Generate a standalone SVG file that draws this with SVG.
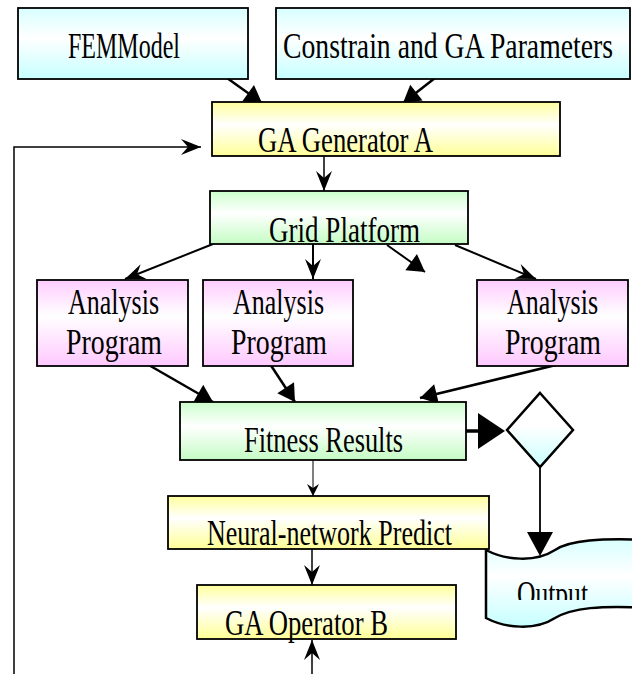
<svg xmlns="http://www.w3.org/2000/svg" width="632" height="674" viewBox="0 0 632 674">
  <defs>
    <!-- vertical fills: tint at top and bottom, white band in between -->
    <linearGradient id="gCyan" x1="0" y1="0" x2="0" y2="1">
      <stop offset="0" stop-color="#d8ffff"/>
      <stop offset="0.42" stop-color="#ffffff"/>
      <stop offset="1" stop-color="#c6ffff"/>
    </linearGradient>
    <linearGradient id="gYellow" x1="0" y1="0" x2="0" y2="1">
      <stop offset="0" stop-color="#ffff9c"/>
      <stop offset="0.42" stop-color="#ffffff"/>
      <stop offset="1" stop-color="#ffff96"/>
    </linearGradient>
    <linearGradient id="gGreen" x1="0" y1="0" x2="0" y2="1">
      <stop offset="0" stop-color="#ccffcc"/>
      <stop offset="0.42" stop-color="#ffffff"/>
      <stop offset="1" stop-color="#c4fcc4"/>
    </linearGradient>
    <linearGradient id="gPink" x1="0" y1="0" x2="0" y2="1">
      <stop offset="0" stop-color="#ffccff"/>
      <stop offset="0.42" stop-color="#ffffff"/>
      <stop offset="1" stop-color="#ffc8ff"/>
    </linearGradient>
    <linearGradient id="gDiamond" x1="0" y1="0" x2="0" y2="1">
      <stop offset="0" stop-color="#ffffff"/>
      <stop offset="0.45" stop-color="#ffffff"/>
      <stop offset="1" stop-color="#c8ffff"/>
    </linearGradient>

    <!-- filled triangle head -->
    <marker id="tri" markerUnits="userSpaceOnUse" viewBox="-18 -11 19 22" markerWidth="19" markerHeight="22" refX="0" refY="0" orient="auto">
      <path d="M0,0 L-17,-10 L-17,10 Z" fill="#000"/>
    </marker>
    <!-- notched head -->
    <marker id="stealth" markerUnits="userSpaceOnUse" viewBox="-21 -9 22 18" markerWidth="22" markerHeight="18" refX="0" refY="0" orient="auto">
      <path d="M0,0 L-20,-8 L-13,0 L-20,8 Z" fill="#000"/>
    </marker>
    <marker id="stealthS" markerUnits="userSpaceOnUse" viewBox="-13 -7 14 14" markerWidth="14" markerHeight="14" refX="0" refY="0" orient="auto">
      <path d="M0,0 L-12,-6 L-8,0 L-12,6 Z" fill="#000"/>
    </marker>

    <clipPath id="outClip">
      <rect x="486" y="530" width="146" height="70"/>
    </clipPath>
  </defs>

  <style>
    .lbl { font-family: "Liberation Serif", "Times New Roman", serif; font-size: 35px; fill: #000; }
    .box { stroke: #000; stroke-width: 1.8; }
    .conn { fill: none; stroke: #000; }
  </style>

  <rect width="632" height="674" fill="#ffffff"/>

  <!-- connectors -->
  <g id="connectors">
    <line class="conn" x1="227" y1="78" x2="262" y2="103" stroke-width="2.5" marker-end="url(#tri)"/>
    <line class="conn" x1="435" y1="78" x2="403" y2="103" stroke-width="2.5" marker-end="url(#tri)"/>
    <polyline class="conn" points="14,674 14,147 201,147" stroke-width="1.5" marker-end="url(#stealth)"/>
    <line class="conn" x1="324" y1="150" x2="324" y2="191" stroke-width="1.5" marker-end="url(#stealth)"/>
    <line class="conn" x1="213" y1="244" x2="125" y2="279" stroke-width="2" marker-end="url(#stealth)"/>
    <line class="conn" x1="313" y1="244" x2="313" y2="279" stroke-width="2" marker-end="url(#stealth)"/>
    <line class="conn" x1="387" y1="245" x2="425" y2="272" stroke-width="2" marker-end="url(#tri)"/>
    <line class="conn" x1="455" y1="245" x2="536" y2="279" stroke-width="2" marker-end="url(#stealth)"/>
    <line class="conn" x1="147" y1="364" x2="213" y2="402" stroke-width="2.5" marker-end="url(#tri)"/>
    <line class="conn" x1="270" y1="364" x2="295" y2="402" stroke-width="2.5" marker-end="url(#tri)"/>
    <line class="conn" x1="560" y1="364" x2="420" y2="398" stroke-width="2.5" marker-end="url(#tri)"/>
    <line class="conn" x1="466" y1="431" x2="480" y2="431" stroke-width="3.5"/>
    <polygon points="478,413 505,431 478,449" fill="#000"/>
    <line class="conn" x1="540" y1="467" x2="540" y2="534" stroke-width="1.8"/>
    <polygon points="527,532 553,532 540,556" fill="#000"/>
    <line class="conn" x1="313" y1="460" x2="313" y2="496" stroke-width="1" marker-end="url(#stealthS)"/>
    <line class="conn" x1="312" y1="549" x2="312" y2="585" stroke-width="1.5" marker-end="url(#stealth)"/>
    <line class="conn" x1="312" y1="674" x2="312" y2="640" stroke-width="1.5" marker-end="url(#stealth)"/>
  </g>

  <g id="fem-model">
    <rect class="box" x="18" y="8" width="230" height="71" fill="url(#gCyan)" stroke-width="2.5"/>
    <text class="lbl" x="68" y="58" textLength="112" lengthAdjust="spacingAndGlyphs">FEMModel</text>
  </g>

  <g id="constrain-params">
    <rect class="box" x="276" y="8" width="354" height="71" fill="url(#gCyan)" stroke-width="2.5"/>
    <!-- smaller face stretched vertically so the long label stays inside the box -->
    <g transform="translate(0,58) scale(1,1.25)">
      <text class="lbl" x="283" y="0" style="font-size:28px" textLength="330" lengthAdjust="spacingAndGlyphs">Constrain and GA Parameters</text>
    </g>
  </g>

  <g id="ga-generator-a">
    <rect class="box" x="212" y="102" width="348" height="54" fill="url(#gYellow)"/>
    <text class="lbl" x="258" y="152" textLength="175" lengthAdjust="spacingAndGlyphs">GA Generator A</text>
  </g>

  <g id="grid-platform">
    <rect class="box" x="210" y="191" width="258" height="53" fill="url(#gGreen)" stroke-width="2"/>
    <text class="lbl" x="269" y="242" textLength="151" lengthAdjust="spacingAndGlyphs">Grid Platform</text>
  </g>

  <g id="analysis-1">
    <rect class="box" x="37" y="280" width="151" height="86" fill="url(#gPink)"/>
    <text class="lbl" x="68" y="314" textLength="91" lengthAdjust="spacingAndGlyphs">Analysis</text>
    <text class="lbl" x="66" y="354" textLength="96" lengthAdjust="spacingAndGlyphs">Program</text>
  </g>

  <g id="analysis-2">
    <rect class="box" x="203" y="280" width="150" height="86" fill="url(#gPink)"/>
    <text class="lbl" x="233" y="314" textLength="91" lengthAdjust="spacingAndGlyphs">Analysis</text>
    <text class="lbl" x="231" y="354" textLength="96" lengthAdjust="spacingAndGlyphs">Program</text>
  </g>

  <g id="analysis-3">
    <rect class="box" x="477" y="280" width="151" height="86" fill="url(#gPink)"/>
    <text class="lbl" x="507" y="314" textLength="91" lengthAdjust="spacingAndGlyphs">Analysis</text>
    <text class="lbl" x="505" y="354" textLength="96" lengthAdjust="spacingAndGlyphs">Program</text>
  </g>

  <g id="fitness-results">
    <rect class="box" x="180" y="402" width="286" height="58" fill="url(#gGreen)"/>
    <text class="lbl" x="244" y="452" textLength="159" lengthAdjust="spacingAndGlyphs">Fitness Results</text>
  </g>

  <g id="decision">
    <polygon points="540,393 573,430 540,467 507,430" fill="url(#gDiamond)" stroke="#000" stroke-width="2.5" stroke-linejoin="miter"/>
  </g>

  <g id="neural-predict">
    <rect class="box" x="168" y="496" width="321" height="53" fill="url(#gYellow)"/>
    <text class="lbl" x="207" y="545" textLength="245" lengthAdjust="spacingAndGlyphs">Neural-network Predict</text>
  </g>

  <g id="ga-operator-b">
    <rect class="box" x="197" y="585" width="259" height="54" fill="url(#gYellow)"/>
    <text class="lbl" x="225" y="635" textLength="163" lengthAdjust="spacingAndGlyphs">GA Operator B</text>
  </g>

  <g id="output">
    <path d="M486,550 C505,560 535,563 555,550 C570,540 600,538 650,540 L650,608 C600,605 572,608 555,618 C535,631 505,628 486,618 Z" fill="url(#gCyan)" stroke="#000" stroke-width="2.5"/>
    <text class="lbl" x="517" y="606" textLength="71" lengthAdjust="spacingAndGlyphs" clip-path="url(#outClip)">Output</text>
  </g>
</svg>
